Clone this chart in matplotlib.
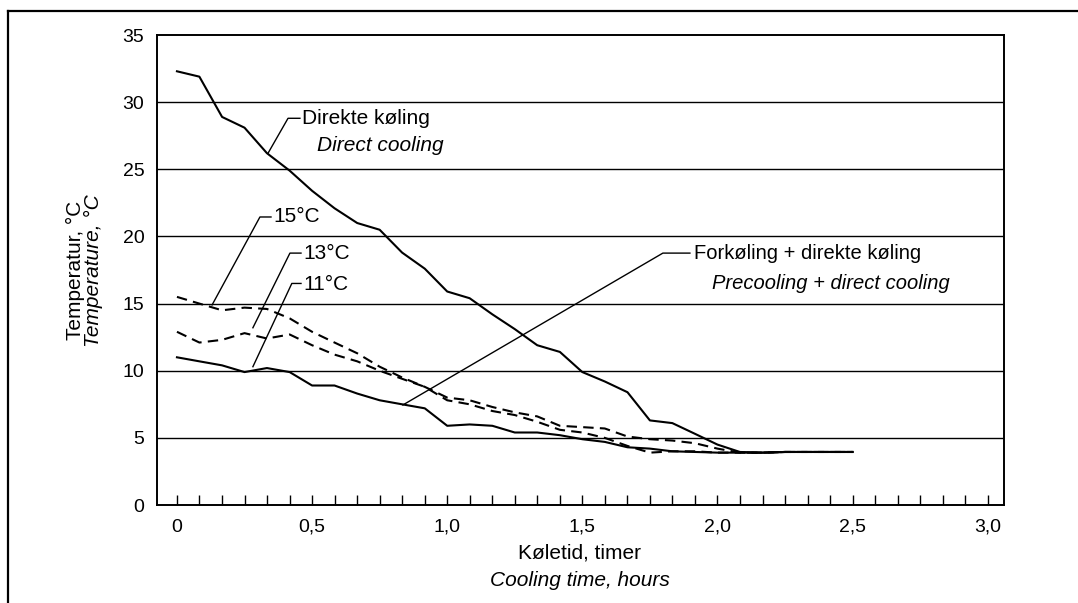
""" Cooling curves: direct cooling vs. precooling + direct cooling. """

import matplotlib
matplotlib.use('Agg')
import matplotlib.pyplot as plt
from matplotlib.lines import Line2D

plt.rcParams['font.family'] = ['Liberation Sans', 'DejaVu Sans']

# Time in hours, one reading every 5 minutes
hours = [0.0, 0.083, 0.167, 0.25, 0.333, 0.417, 0.5, 0.583, 0.667, 0.75,
         0.833, 0.917, 1.0, 1.083, 1.167, 1.25, 1.333, 1.417, 1.5, 1.583,
         1.667, 1.75, 1.833, 1.917, 2.0, 2.083, 2.167, 2.25, 2.333, 2.417, 2.5]

# Direkte køling / direct cooling
direct = [32.3, 31.9, 28.9, 28.1, 26.2, 24.9, 23.4, 22.1, 21.0, 20.5,
          18.8, 17.6, 15.9, 15.4, 14.2, 13.1, 11.9, 11.4, 9.9, 9.2,
          8.4, 6.3, 6.1, 5.3, 4.5, 3.95, 3.9, 3.95, 3.95, 3.95, 3.95]

# Precooling to 15, 13 and 11 degrees, then direct cooling
pre15 = [15.5, 15.0, 14.5, 14.7, 14.6, 13.9, 12.9, 12.1, 11.3, 10.3,
         9.5, 8.8, 8.0, 7.8, 7.3, 6.9, 6.6, 5.9, 5.8, 5.7,
         5.1, 4.9, 4.8, 4.6, 4.2, 3.9, 3.9, 3.95, 3.95, 3.95, 3.95]
pre13 = [12.9, 12.1, 12.3, 12.8, 12.4, 12.7, 11.9, 11.2, 10.7, 10.0,
         9.4, 8.8, 7.8, 7.5, 7.0, 6.7, 6.2, 5.6, 5.4, 5.0,
         4.4, 3.9, 4.0, 4.0, 3.9, 3.9, 3.9, 3.95, 3.95, 3.95, 3.95]
pre11 = [11.0, 10.7, 10.4, 9.9, 10.2, 9.9, 8.9, 8.9, 8.3, 7.8,
         7.5, 7.2, 5.9, 6.0, 5.9, 5.4, 5.4, 5.2, 4.9, 4.7,
         4.3, 4.2, 4.0, 3.95, 3.9, 3.9, 3.9, 3.95, 3.95, 3.95, 3.95]

x_ticks = [0, 0.5, 1.0, 1.5, 2.0, 2.5, 3.0]
x_tick_labels = ['0', '0,5', '1,0', '1,5', '2,0', '2,5', '3,0']
y_ticks = [0, 5, 10, 15, 20, 25, 30, 35]

fig = plt.figure(figsize=(10.78, 6.03), dpi=100)
ax = fig.add_axes([0.1456, 0.1625, 0.7857, 0.7794])

# Horizontal grid lines
for yv in y_ticks[1:-1]:
    ax.axhline(yv, color='black', lw=1.0, zorder=1)

ax.plot(hours, direct, color='black', lw=1.5, zorder=3)
ax.plot(hours, pre11, color='black', lw=1.5, zorder=3)
ax.plot(hours, pre15, color='black', lw=1.5, dashes=(5, 3), zorder=3)
ax.plot(hours, pre13, color='black', lw=1.5, dashes=(5, 3), zorder=3)

ax.set_xlim(-0.074, 3.06)
ax.set_ylim(0, 35)
ax.set_xticks(x_ticks)
ax.set_xticklabels(x_tick_labels)
ax.set_xticks([i / 12 for i in range(37)], minor=True)
ax.set_yticks(y_ticks)
ax.tick_params(axis='x', which='both', direction='in', length=7, width=1.0,
               labelsize=14, pad=10)
ax.tick_params(axis='y', length=0, labelsize=14, pad=9)
for s in ax.spines.values():
    s.set_linewidth(1.4)

# Leader lines and labels
leaders = [
    ([0.337, 0.411, 0.455], [26.2, 28.8, 28.8]),
    ([0.13, 0.307, 0.348], [14.9, 21.45, 21.45]),
    ([0.281, 0.418, 0.459], [13.2, 18.76, 18.76]),
    ([0.281, 0.425, 0.459], [10.3, 16.5, 16.5]),
    ([0.836, 1.798, 1.898], [7.45, 18.76, 18.76]),
]
for lx, ly in leaders:
    ax.plot(lx, ly, color='black', lw=1.0, zorder=4)

fs = 15
ax.text(0.462, 28.8, 'Direkte køling', fontsize=fs, va='center')
ax.text(0.518, 26.8, 'Direct cooling', fontsize=fs, va='center', style='italic')
ax.text(0.355, 21.45, '15°C', fontsize=fs, va='center')
ax.text(0.466, 18.76, '13°C', fontsize=fs, va='center')
ax.text(0.466, 16.4, '11°C', fontsize=fs, va='center')
ax.text(1.913, 18.76, 'Forkøling + direkte køling', fontsize=14.5, va='center')
ax.text(1.98, 16.5, 'Precooling + direct cooling', fontsize=14.5, va='center',
        style='italic')

# Axis titles (Danish / English)
fig.text(0.0696, 0.552, 'Temperatur, °C', rotation=90, fontsize=15,
         ha='center', va='center')
fig.text(0.0863, 0.552, 'Temperature, °C', rotation=90, fontsize=15,
         ha='center', va='center', style='italic')
fig.text(0.538, 1 - 553 / 603, 'Køletid, timer', fontsize=15,
         ha='center', va='center')
fig.text(0.538, 1 - 580 / 603, 'Cooling time, hours', fontsize=15,
         ha='center', va='center', style='italic')

# Outer frame (top and left edge)
fig.add_artist(Line2D([8 / 1078, 1.0], [1 - 11 / 603, 1 - 11 / 603],
                      color='black', lw=1.6))
fig.add_artist(Line2D([8 / 1078, 8 / 1078], [0.0, 1 - 11 / 603],
                      color='black', lw=1.6))

fig.savefig('out.png', dpi=100)
